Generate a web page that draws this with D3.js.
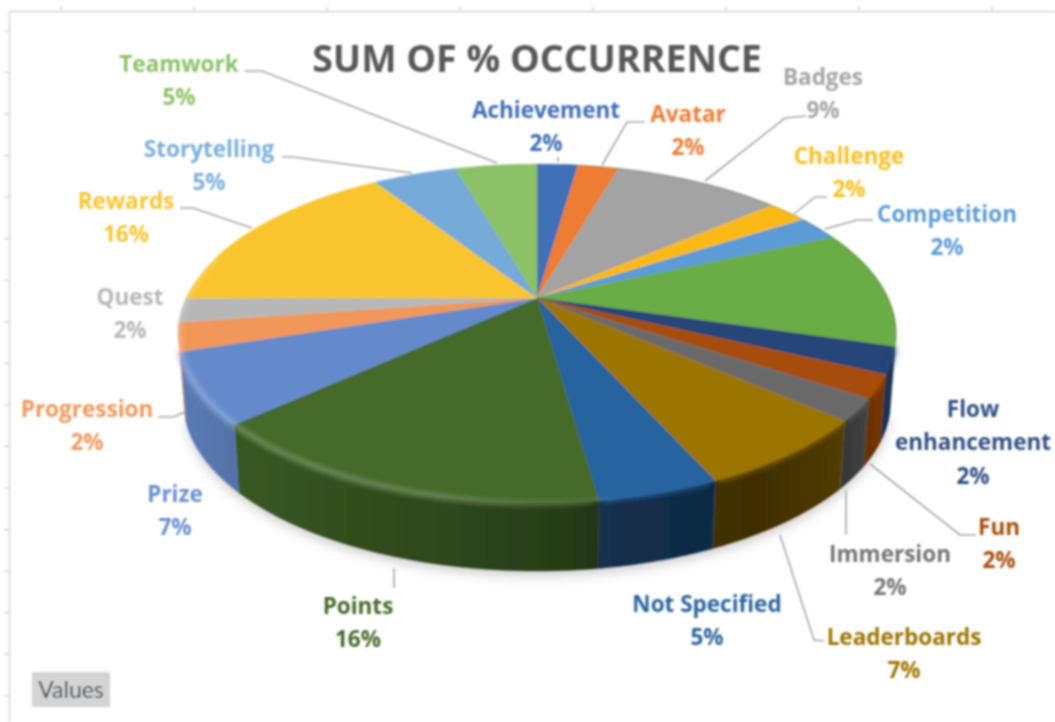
<!DOCTYPE html>
<html>
<head>
<meta charset="utf-8">
<script src="https://cdnjs.cloudflare.com/ajax/libs/d3/7.9.0/d3.min.js"></script>
<style>
html,body{margin:0;padding:0;background:#fff;overflow:hidden}
svg{display:block}
</style>
</head>
<body>
<svg id="c" width="1055" height="722"></svg>
<script>
// ---- data ----
const titleText = "SUM OF % OCCURRENCE";
const categories = ["Achievement","Avatar","Badges","Challenge","Competition","","Flow enhancement","Fun","Immersion","Leaderboards","Not Specified","Points","Prize","Progression","Quest","Rewards","Storytelling","Teamwork"];
const shares = [2.25,2.25,9.25,2.2,2.4,11.2,2.5,2.2,2.1,6.9,4.5,15.5,6.7,2.7,2.3,15.9,4.6,4.5];
const percentLabels = ["2%","2%","9%","2%","2%","","2%","2%","2%","7%","5%","16%","7%","2%","2%","16%","5%","5%"];
const sliceColors = ["#4070b8","#ed7d31","#a3a3a3","#fbb913","#5b9bd5","#6bac45","#264478","#a64d08","#6b6b6b","#9c7400","#27649f","#446a2a","#658acb","#f1975a","#b7b7b7","#f9c52e","#74aad9","#8cc168"];
const labelColors = ["#3f6db5","#ed7d31","#a5a5a5","#fbbf1c","#5b9bd5","#6bac45","#2f4f85","#a64d08","#757575","#9c7400","#2a659f","#446a2a","#698ed0","#f1975a","#b7b7b7","#f9c52e","#7cafdd","#8cc168"];
// label layout: centre x, baseline of the first line
const labelLayout = [[546,118],[688,122],[823,85],[849,164],[947,222],null,[973,417],[999,535],[890,562],[904,645],[707,612],[358,614],[175,502],[87,417],[130,305],[126,209],[209,157],[179,72]];
// leader lines
const leaderLayout = [
 [[558,157],[558,162]],
 [[645,122],[627,122],[602,165]],
 [[806,116],[785,118],[705,181]],
 [[827,197],[815,197],[794,214]],
 [[873,220],[857,220],[825,229]],
 null,null,
 [[976,535],[960,535],[870,464]],
 [[846,535],[846,490]],
 [[824,641],[814,640],[780,535]],
 null,
 [[394,588],[394,568]],
 null,
 [[158,417],[173,417],[185,412]],
 null,
 [[180,208],[193,208],[252,228]],
 [[282,157],[293,157],[412,173]],
 [[245,71],[262,71],[497,163]]
];

// ---- geometry ----
const svg = d3.select("#c");
const W = 1055, H = 722;
const cx = 537, cy = 298, a = 351, b = 162, k = 0.21, depth = 68, shrink = 0.985;
const project = t => {
  const X = Math.sin(t), Y = -Math.cos(t), w = 1 - k * Y;
  return [cx + a * X / w, cy + b * Y / w];
};
const projectBottom = t => {
  const p = project(t);
  return [cx + (p[0] - cx) * shrink, p[1] + depth];
};
const arcPts = (t0, t1, fn) => {
  const n = Math.max(2, Math.ceil(Math.abs(t1 - t0) / 0.01));
  return d3.range(n + 1).map(i => fn(t0 + (t1 - t0) * i / n));
};
const line = d3.line();
const pie = d3.pie().sort(null).startAngle(0).endAngle(2 * Math.PI);
const arcs = pie(shares);

// ---- defs ----
const defs = svg.append("defs");
const addBlur = (id, s) => defs.append("filter").attr("id", id)
  .attr("x", "-10%").attr("y", "-10%").attr("width", "120%").attr("height", "120%")
  .append("feGaussianBlur").attr("stdDeviation", s);
addBlur("soft", 0.85); addBlur("bevel", 2.6); addBlur("shadow", 6);

const shade = defs.append("linearGradient").attr("id", "wallShade")
  .attr("gradientUnits", "userSpaceOnUse").attr("x1", 175).attr("x2", 900).attr("y1", 0).attr("y2", 0);
[[175,.1],[240,.18],[400,.3],[560,.42],[600,.52],[760,.6],[850,.47],[880,.3],[900,.3]].forEach(s =>
  shade.append("stop").attr("offset", (s[0] - 175) / 725).attr("stop-color", "#000").attr("stop-opacity", s[1]));
const bevelG = defs.append("linearGradient").attr("id", "bevelStroke")
  .attr("gradientUnits", "userSpaceOnUse").attr("x1", 175).attr("x2", 900).attr("y1", 0).attr("y2", 0);
[[175,.24],[440,.2],[600,.06],[680,0],[900,0]].forEach(s =>
  bevelG.append("stop").attr("offset", (s[0] - 175) / 725).attr("stop-color", "#fff").attr("stop-opacity", s[1]));

const root = svg.append("g").attr("filter", "url(#soft)");

// ---- sheet frame and its ticks ----
const frame = root.append("g").attr("stroke", "#dedede").attr("fill", "none");
frame.append("path").attr("d", `M9.5,${H}V11.5H${W}`).attr("stroke-width", 2);
d3.range(61, W, 133).forEach(x => frame.append("path").attr("d", `M${x},6V11`).attr("stroke", "#c8c8c8"));
d3.range(31, H, 41.55).forEach(y => frame.append("path").attr("d", `M4,${y}H9`).attr("stroke", "#c8c8c8"));

// ---- drop shadow ----
root.append("path")
  .attr("d", line(arcPts(1.85, 4.4, projectBottom)) + "Z")
  .attr("transform", "translate(0,5)")
  .attr("fill", "#777").attr("opacity", .35).attr("filter", "url(#shadow)");

// ---- side walls ----
const wallFrom = 106 * Math.PI / 180, wallTo = 252 * Math.PI / 180;
const walls = root.append("g");
arcs.forEach((d, i) => {
  const t0 = Math.max(d.startAngle, wallFrom), t1 = Math.min(d.endAngle, wallTo);
  if (t1 <= t0) return;
  const path = line(arcPts(t0, t1, project).concat(arcPts(t1, t0, projectBottom))) + "Z";
  walls.append("path").attr("d", path).attr("fill", sliceColors[i]).attr("stroke", sliceColors[i]).attr("stroke-width", .5);
  walls.append("path").attr("d", path).attr("fill", "url(#wallShade)");
});

// ---- top face ----
const topFace = root.append("g");
arcs.forEach((d, i) => {
  const pts = [[cx, cy]].concat(arcPts(d.startAngle, d.endAngle, project));
  topFace.append("path").attr("d", line(pts) + "Z").attr("fill", sliceColors[i]).attr("stroke", sliceColors[i]).attr("stroke-width", .5);
});
// rounded rim: each front slice's colour bleeds softly over the top of its wall
const rim = root.append("g").attr("fill", "none").attr("filter", "url(#bevel)");
arcs.forEach((d, i) => {
  const t0 = Math.max(d.startAngle, wallFrom), t1 = Math.min(d.endAngle, wallTo);
  if (t1 <= t0) return;
  rim.append("path").attr("d", line(arcPts(t0 + .012, t1 - .012, project)))
    .attr("stroke", sliceColors[i]).attr("stroke-width", 5).attr("stroke-opacity", .75);
});
// bevel highlight along the front rim
root.append("path")
  .attr("d", line(arcPts(170 * Math.PI / 180, 285 * Math.PI / 180, project)))
  .attr("fill", "none").attr("stroke", "url(#bevelStroke)").attr("stroke-width", 6)
  .attr("filter", "url(#bevel)");
// soft dark seam on the right of the rim
root.append("path")
  .attr("d", line(arcPts(5 * Math.PI / 180, 105 * Math.PI / 180, project)))
  .attr("fill", "none").attr("stroke", "#3c5a2c").attr("stroke-opacity", .35).attr("stroke-width", 1.2);

// ---- leader lines ----
const leaders = root.append("g").attr("fill", "none").attr("stroke", "#a6a6a6").attr("stroke-width", 1.6);
leaderLayout.forEach(p => { if (p) leaders.append("path").attr("d", line(p)); });

// ---- labels ----
const font = "'Open Sans', Lato, sans-serif";
const labels = root.append("g").attr("font-family", font).attr("font-weight", 700).attr("font-size", 22.5).attr("text-anchor", "middle");
categories.forEach((name, i) => {
  if (!labelLayout[i]) return;
  const [x, y] = labelLayout[i];
  const g = labels.append("g").attr("fill", labelColors[i]);
  if (name === "Flow enhancement") {
    g.append("text").attr("x", x).attr("y", y).text("Flow");
    g.append("text").attr("x", x).attr("y", y + 33).text("enhancement");
    g.append("text").attr("x", x).attr("y", y + 67).text(percentLabels[i]);
  } else {
    g.append("text").attr("x", x).attr("y", y).text(name);
    g.append("text").attr("x", x).attr("y", y + 33).text(percentLabels[i]);
  }
});
// title
root.append("text").attr("x", 537).attr("y", 72).attr("text-anchor", "middle")
  .attr("font-family", font).attr("font-weight", 700).attr("font-size", 37.5).attr("fill", "#595959").text(titleText);

// ---- field button ----
root.append("rect").attr("x", 32).attr("y", 672).attr("width", 78).attr("height", 35).attr("fill", "#d4d4d4");
root.append("text").attr("x", 71).attr("y", 698).attr("text-anchor", "middle")
  .attr("font-family", "Lato, sans-serif").attr("font-size", 23).attr("fill", "#3f4753").text("Values");
</script>
</body>
</html>
